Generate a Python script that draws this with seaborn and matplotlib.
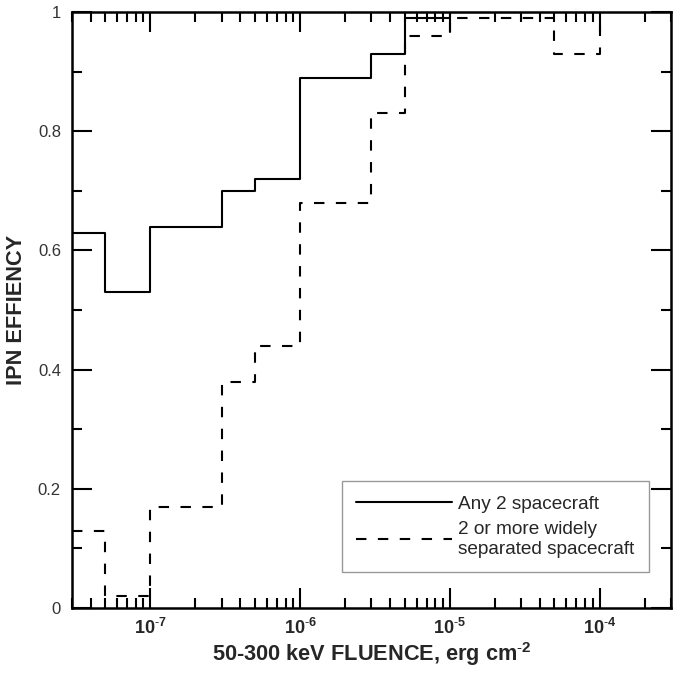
# IPN efficiency vs fluence, step curves

import numpy as np
import pandas as pd
import matplotlib
matplotlib.use("Agg")
import matplotlib.pyplot as plt
import matplotlib.ticker as mticker
import seaborn as sns

# ---------------------------------------------------------
# DATA (bin edges, step values; last value closes the step)
# ---------------------------------------------------------

any2_edges = [3e-8, 5e-8, 1e-7, 3e-7, 5e-7, 1e-6, 3e-6, 5e-6, 1e-5, 1e-4]
any2_eff = [0.63, 0.53, 0.64, 0.70, 0.72, 0.89, 0.93, 0.99, 1.00, 1.00]

wide_edges = [3e-8, 5e-8, 1e-7, 3e-7, 5e-7, 1e-6, 3e-6, 5e-6, 1e-5, 5e-5, 1e-4]
wide_eff = [0.13, 0.02, 0.17, 0.38, 0.44, 0.68, 0.83, 0.96, 0.99, 0.93, 1.00]

x_ticks = [1e-7, 1e-6, 1e-5, 1e-4]
y_ticks = [0, 0.2, 0.4, 0.6, 0.8, 1.0]

# ---------------------------------------------------------
# STYLE
# ---------------------------------------------------------

sns.set_style("ticks")
plt.rcParams["font.family"] = ["Liberation Sans", "DejaVu Sans"]
plt.rcParams["mathtext.fontset"] = "custom"
plt.rcParams["mathtext.rm"] = "Liberation Sans"
plt.rcParams["mathtext.bf"] = "Liberation Sans:bold"

fig = plt.figure(figsize=(6.83, 6.73), dpi=100)
ax = fig.add_axes([0.1054, 0.0966, 0.877, 0.8856])

df_any = pd.DataFrame({"fluence": any2_edges, "eff": any2_eff})
df_wide = pd.DataFrame({"fluence": wide_edges, "eff": wide_eff})

sns.lineplot(data=df_any, x="fluence", y="eff", ax=ax, color="black",
             lw=1.5, drawstyle="steps-post", label="Any 2 spacecraft")
sns.lineplot(data=df_wide, x="fluence", y="eff", ax=ax, color="black",
             lw=1.5, drawstyle="steps-post", dashes=False,
             label="2 or more widely\nseparated spacecraft")
ax.lines[1].set_dashes((5, 5.5))

ax.set_xscale("log")
ax.set_xlim(3e-8, 3e-4)
ax.set_ylim(0, 1)

ax.set_xticks(x_ticks)
ax.xaxis.set_minor_locator(mticker.LogLocator(base=10, subs=np.arange(2, 10)))
ax.xaxis.set_minor_formatter(mticker.NullFormatter())
ax.set_xticklabels([r"$\mathbf{10^{\text{-}%d}}$" % abs(int(np.log10(v)))
                    for v in x_ticks], fontsize=13)

ax.set_yticks(y_ticks)
ax.yaxis.set_minor_locator(mticker.MultipleLocator(0.1))
ax.set_yticklabels([f"{v:g}" for v in y_ticks], fontsize=12, color="#333333")

ax.tick_params(which="both", direction="in", top=True, right=True,
               width=1.5, color="black")
ax.tick_params(which="major", length=14.5)
ax.tick_params(axis="y", which="major", pad=8)
ax.tick_params(axis="x", which="major", pad=7)
ax.tick_params(which="minor", length=7.2)

for s in ax.spines.values():
    s.set_linewidth(1.8)
    s.set_color("black")

ax.set_xlabel(r"50-300 keV FLUENCE, erg cm$\mathbf{^{\text{-}2}}$",
              fontsize=15.7, fontweight="bold", labelpad=2)
ax.set_ylabel("IPN EFFIENCY", fontsize=15.7, fontweight="bold", labelpad=8)

leg = ax.legend(loc="lower right", bbox_to_anchor=(0.963, 0.060),
                borderaxespad=0, fontsize=13.7, fancybox=False,
                edgecolor="#999999", framealpha=1, handlelength=5.0,
                handletextpad=0.35, labelspacing=0.45, borderpad=0.75)
leg.get_frame().set_linewidth(1.0)

fig.savefig("out.png", dpi=100)
